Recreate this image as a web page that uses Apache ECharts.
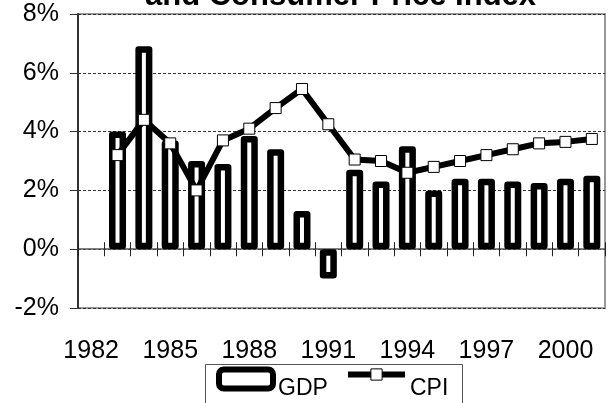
<!DOCTYPE html>
<html>
<head>
<meta charset="utf-8">
<script src="https://cdn.jsdelivr.net/npm/echarts@6/dist/echarts.min.js"></script>
<style>
  html, body { margin: 0; padding: 0; background: #fff; }
  #chart { width: 608px; height: 403px; }
</style>
</head>
<body>
<div id="chart"></div>
<script>
// 年份
const years = ['1982', '1983', '1984', '1985', '1986', '1987', '1988', '1989', '1990', '1991',
  '1992', '1993', '1994', '1995', '1996', '1997', '1998', '1999', '2000', '2001'];
// 实际 GDP 增长率 (%)
const gdpValues = [null, 4.0, 6.9, 3.7, 3.0, 2.9, 3.85, 3.4, 1.3, -1.0,
  2.7, 2.3, 3.5, 2.0, 2.4, 2.4, 2.3, 2.25, 2.4, 2.5];
// 消费者价格指数 (%)
const cpiValues = [null, 3.2, 4.4, 3.6, 2.0, 3.7, 4.1, 4.8, 5.45, 4.25,
  3.05, 3.0, 2.6, 2.8, 3.0, 3.2, 3.4, 3.6, 3.65, 3.75];
const yTicks = { min: -2, max: 8, interval: 2 };

const chart = echarts.init(document.getElementById('chart'));
const font = 'Liberation Sans, Arial, sans-serif';

// 图例文字比图标略低
const legendText = (padTop) => ({
  fontFamily: font, fontSize: 23, color: '#000',
  rich: { t: { fontFamily: font, fontSize: 23, color: '#000', lineHeight: 24, padding: [padTop, 0, 0, 0] } }
});

chart.setOption({
  animation: false,
  backgroundColor: '#fff',
  textStyle: { fontFamily: font, color: '#000' },
  title: {
    text: 'and Consumer Price Index',
    left: 145,
    top: -19,
    padding: 0,
    textStyle: { fontFamily: font, fontSize: 31, fontWeight: 'bold', color: '#000' }
  },
  graphic: [
    {
      type: 'rect', z: -1,
      shape: { x: 205.5, y: 364.5, width: 257, height: 60 },
      style: { fill: 'none', stroke: '#555', lineWidth: 1 }
    }
  ],
  legend: [
    {
      left: 216,
      top: 358,
      padding: 0,
      itemWidth: 54,
      itemHeight: 19,
      formatter: '{t|{name}}',
      textStyle: legendText(19),
      data: [
        { name: 'GDP', icon: 'roundRect', itemStyle: { color: '#fff', borderColor: '#000', borderWidth: 6 } }
      ]
    },
    {
      left: 345,
      top: 349,
      padding: 0,
      itemWidth: 57,
      itemHeight: 14,
      formatter: '{t|{name}}',
      textStyle: legendText(28),
      data: [
        { name: 'CPI', itemStyle: { color: '#fff', borderColor: '#000', borderWidth: 1 }, lineStyle: { width: 6, color: '#000' } }
      ]
    }
  ],
  grid: {
    left: 78, top: 14, right: 3, bottom: 95,
    show: true, borderColor: '#999', borderWidth: 2
  },
  xAxis: [
    {
      type: 'category', data: years, position: 'bottom',
      axisLine: { onZero: true, onZeroAxisIndex: 0, lineStyle: { color: '#555', width: 1.5 } },
      axisTick: { show: true, interval: 0, length: 7, lineStyle: { color: '#222' } },
      axisLabel: { show: false },
      splitLine: { show: false }
    },
    {
      type: 'category', data: years, position: 'bottom',
      axisLine: { onZero: true, onZeroAxisIndex: 1, show: true, lineStyle: { opacity: 0 } },
      axisTick: { show: true, interval: 0, inside: true, length: 7, lineStyle: { color: '#222', opacity: 1 } },
      axisLabel: { show: false },
      splitLine: { show: false }
    },
    {
      type: 'category', data: years, position: 'bottom',
      axisLine: { onZero: false, show: false },
      axisTick: { show: false },
      axisLabel: { interval: 2, margin: 31, fontSize: 25, color: '#000', fontFamily: font },
      splitLine: { show: false }
    }
  ],
  yAxis: [
    {
      type: 'value',
      min: yTicks.min, max: yTicks.max, interval: yTicks.interval,
      axisLine: { show: true, onZero: false, lineStyle: { color: '#333', width: 2 } },
      axisTick: { show: true, length: 8, lineStyle: { color: '#333' } },
      axisLabel: { formatter: '{value}%', margin: 19, fontSize: 25, color: '#000', fontFamily: font },
      splitLine: { show: true, lineStyle: { color: '#333', width: 1, type: [3, 2] } }
    },
    {
      // 仅用于让第二条 x 轴的内侧刻度也落在 0 线上
      type: 'value', position: 'left',
      min: yTicks.min, max: yTicks.max, interval: yTicks.interval,
      axisLine: { show: false, onZero: false },
      axisTick: { show: false },
      axisLabel: { show: false },
      splitLine: { show: false }
    }
  ],
  series: [
    {
      name: 'GDP',
      type: 'bar',
      xAxisIndex: 0,
      data: gdpValues,
      barWidth: 17,
      itemStyle: { color: '#fff', borderColor: '#000', borderWidth: 6.5, borderJoin: 'round' },
      z: 2
    },
    {
      name: 'CPI',
      type: 'line',
      xAxisIndex: 0,
      data: cpiValues,
      symbol: 'rect',
      symbolSize: 11,
      showAllSymbol: true,
      lineStyle: { color: '#000', width: 6 },
      itemStyle: { color: '#fff', borderColor: '#000', borderWidth: 1 },
      z: 3
    }
  ]
});
</script>
</body>
</html>
